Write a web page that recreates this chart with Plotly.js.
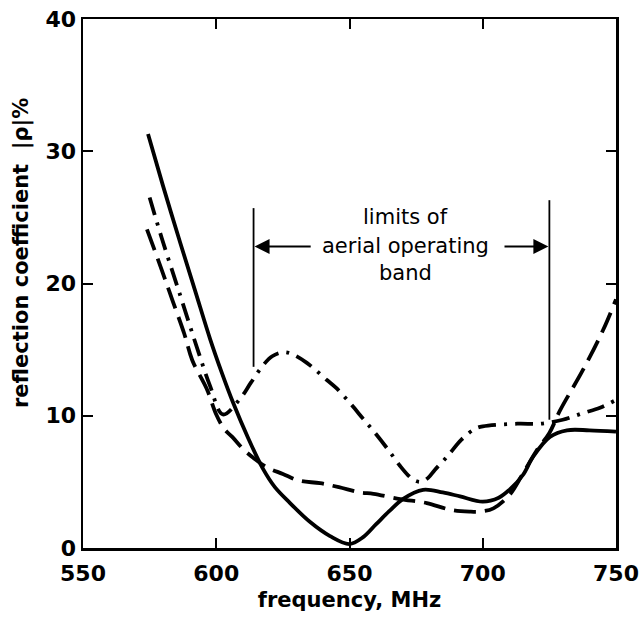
<!DOCTYPE html>
<html><head><meta charset="utf-8">
<script src="https://cdn.plot.ly/plotly-3.0.1.min.js"></script>
<style>html,body{margin:0;padding:0;background:#fff;}#chart{width:644px;height:619px;}</style>
</head><body><div id="chart"></div>
<script>
// Solid curve
const solidFreq = [574.4, 580, 586, 592, 597.7, 602, 606.3, 612, 617.5, 622, 627.7, 635, 642.7, 650, 655, 660, 665, 670, 677.6, 685, 691.5, 700, 706, 710, 715, 718.9, 725.2, 731.6, 740, 750];
const solidRefl = [31.3, 27.4, 23.4, 19.5, 15.8, 13.3, 11.0, 8.3, 6.0, 4.6, 3.4, 2.0, 0.9, 0.3, 0.8, 1.8, 2.8, 3.7, 4.4, 4.2, 3.9, 3.5, 3.8, 4.4, 5.5, 6.9, 8.4, 8.9, 8.9, 8.8];
// Long-dashed curve
const dashFreq = [574, 579.6, 583.8, 588, 591, 596.5, 600, 603, 606, 610, 614, 619, 625, 631, 639, 646, 654, 659, 669, 679, 687.7, 695, 699, 704, 710, 715, 720, 725, 729, 737.7, 745.2, 750];
const dashRefl = [24.1, 21.0, 18.6, 16.2, 14.2, 12.0, 10.1, 9.0, 8.4, 7.5, 6.8, 6.1, 5.6, 5.1, 4.9, 4.6, 4.2, 4.1, 3.7, 3.4, 2.9, 2.75, 2.75, 3.0, 4.0, 5.6, 7.3, 8.7, 10.4, 13.5, 16.5, 18.8];
// Dash-dot curve
const dashDotFreq = [575, 579.6, 586, 593.5, 597.6, 602.5, 609, 613, 617.5, 621, 625, 628, 634, 641.5, 645, 650, 655, 660, 665, 669, 672, 674.5, 677, 679.5, 682, 686.6, 692, 697, 700, 713, 721.5, 730, 737.6, 744, 750];
const dashDotRefl = [26.5, 23.4, 19.4, 14.7, 12.3, 10.1, 11.3, 12.5, 13.8, 14.5, 14.8, 14.7, 14.0, 12.7, 12.1, 11.0, 9.8, 8.6, 7.3, 6.2, 5.5, 5.1, 5.0, 5.3, 5.9, 6.9, 8.2, 9.0, 9.2, 9.4, 9.4, 9.7, 10.2, 10.6, 11.2];
// Operating band limits and their vertical extents
const bandLimits = [614, 725];
const bandLimitLow = [13.7, 9.7];
const bandLimitHigh = [25.7, 26.3];
const arrowLevel = 22.8;
const arrowTails = [636, 707.6];
const bandLabels = ["limits of", "aerial operating", "band"];
const bandLabelY = [25.0, 22.8, 20.8];
const xTicks = [550, 600, 650, 700, 750];
const yTicks = [0, 10, 20, 30, 40];

const font = "DejaVu Sans, sans-serif";
const traces = [
  {x: solidFreq, y: solidRefl, mode: 'lines', line: {color: '#000', width: 3.8, shape: 'spline'}},
  {x: dashFreq, y: dashRefl, mode: 'lines', line: {color: '#000', width: 3.8, shape: 'spline', dash: '22px,9px'}},
  {x: dashDotFreq, y: dashDotRefl, mode: 'lines', line: {color: '#000', width: 3.8, shape: 'spline', dash: '18px,8px,3px,8px'}}
];

const shapes = bandLimits.map((f, i) => ({type: 'line', xref: 'x', yref: 'y', x0: f, x1: f, y0: bandLimitLow[i], y1: bandLimitHigh[i], line: {color: '#000', width: 1.8}}));

const annotations = [];
bandLimits.forEach((f, i) => {
  annotations.push({x: f, y: arrowLevel, ax: arrowTails[i], ay: arrowLevel, xref: 'x', yref: 'y', axref: 'x', ayref: 'y', text: '', showarrow: true, arrowhead: 2, arrowsize: 1.5, arrowwidth: 2, arrowcolor: '#000', standoff: 1});
});
bandLabels.forEach((t, i) => {
  annotations.push({x: 671, y: bandLabelY[i], xref: 'x', yref: 'y', text: t, showarrow: false, font: {family: font, size: 21, color: '#000'}, xanchor: 'center', yanchor: 'middle'});
});
// y-axis title as a rotated annotation (positioned like the reference)
annotations.push({xref: 'paper', yref: 'paper', x: -0.114, y: 0.558, xanchor: 'center', yanchor: 'middle', textangle: -90, showarrow: false,
  text: '<b>reflection coefficient  |ρ|%</b>', font: {family: font, size: 21, color: '#000'}});

const layout = {
  width: 644, height: 619,
  margin: {l: 83, r: 28, t: 19, b: 71},
  paper_bgcolor: '#fff', plot_bgcolor: '#fff',
  showlegend: false,
  font: {family: font, color: '#000'},
  xaxis: {
    range: [550, 750], tickvals: xTicks, ticktext: xTicks.map(v => '<b>' + v + '</b>'),
    ticks: 'inside', ticklen: 10, tickwidth: 2, tickcolor: '#000',
    showline: true, linewidth: 2.5, linecolor: '#000', mirror: 'ticks',
    showgrid: false, zeroline: false, ticklabelstandoff: 4,
    tickfont: {family: font, size: 22, color: '#000'},
    title: {text: '<b>frequency, MHz</b>', font: {family: font, size: 21, color: '#000'}, standoff: 8}
  },
  yaxis: {
    range: [0, 40], tickvals: yTicks, ticktext: yTicks.map(v => '<b>' + v + '</b>'),
    ticks: 'inside', ticklen: 10, tickwidth: 2, tickcolor: '#000',
    showline: true, linewidth: 2.5, linecolor: '#000', mirror: 'ticks',
    showgrid: false, zeroline: false,
    tickfont: {family: font, size: 22, color: '#000'}
  },
  shapes: shapes,
  annotations: annotations
};
Plotly.newPlot('chart', traces, layout, {displayModeBar: false, staticPlot: true});
</script></body></html>
